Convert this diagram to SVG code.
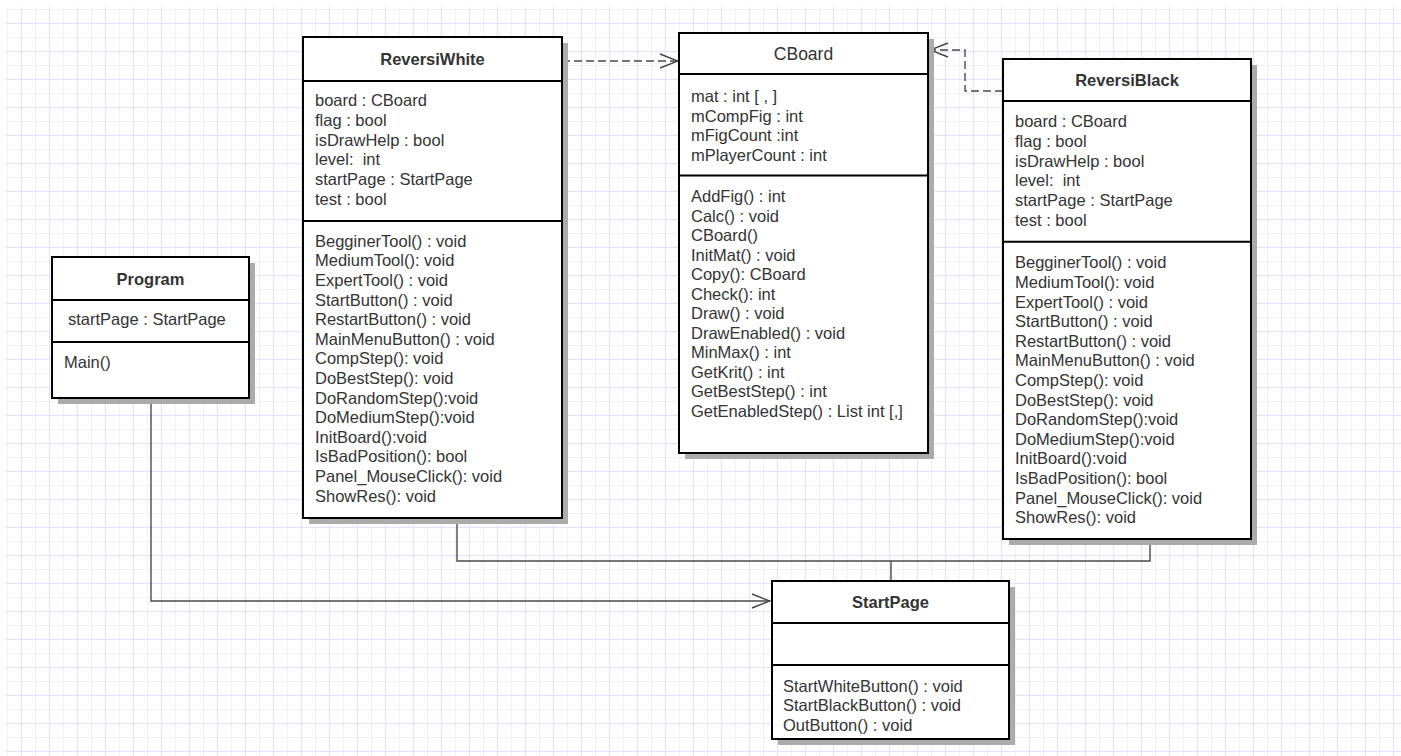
<svg xmlns="http://www.w3.org/2000/svg" width="1401" height="756" viewBox="0 0 1401 756">
<defs>
<pattern id="grid" patternUnits="userSpaceOnUse" x="7" y="9" width="28" height="28">
<line x1="0.5" y1="0" x2="0.5" y2="28" stroke="#f1f1fd" stroke-width="1"/>
<line x1="0" y1="0.5" x2="28" y2="0.5" stroke="#f1f1fd" stroke-width="1"/>
<line x1="14.5" y1="0" x2="14.5" y2="28" stroke="#e3e3fa" stroke-width="1.2"/>
<line x1="0" y1="14.5" x2="28" y2="14.5" stroke="#e3e3fa" stroke-width="1.2"/>
</pattern>
<marker id="open" markerUnits="userSpaceOnUse" viewBox="0 0 20 16" refX="19" refY="8" markerWidth="20" markerHeight="16" orient="auto">
<polyline points="1,1 19,8 1,15" fill="none" stroke="#444" stroke-width="1.4"/>
</marker>
</defs>
<style>
.shadow{fill:#ababab}
.box{fill:#fff;stroke:#000;stroke-width:2}
.div{stroke:#000;stroke-width:2}
.t{font-family:"Liberation Sans",Arial,sans-serif;font-size:16.5px;fill:#333;white-space:pre}
.title{font-family:"Liberation Sans",Arial,sans-serif;font-size:16.5px;font-weight:bold;fill:#333;text-anchor:middle}
.titler{font-family:"Liberation Sans",Arial,sans-serif;font-size:17.5px;fill:#333;text-anchor:middle}
.conn{fill:none;stroke:#4a4a4a;stroke-width:1.4}
.dash{stroke-dasharray:8 4}
</style>
<rect x="0" y="0" width="1401" height="756" fill="#fff"/>
<rect x="5" y="7" width="1396" height="749" fill="url(#grid)"/>

<g id="connectors">
<polyline class="conn dash" points="562,61 678,61" marker-end="url(#open)"/>
<polyline class="conn dash" points="1003,91 965,91 965,50 930,50" marker-end="url(#open)"/>
<polyline class="conn" points="457,518 457,561 1150,561 1150,540"/>
<polyline class="conn" points="891,561 891,581"/>
<polyline class="conn" points="151,398 151,601 770,601" marker-end="url(#open)"/>
</g>

<g id="ReversiWhite">
<rect class="shadow" x="309" y="43" width="259" height="481"/>
<rect class="box" x="303" y="37" width="259" height="481"/>
<line class="div" x1="303" y1="81" x2="562" y2="81"/>
<line class="div" x1="303" y1="221" x2="562" y2="221"/>
<text class="title" x="432.5" y="65">ReversiWhite</text>
<text class="t" x="315" y="106">board : CBoard</text>
<text class="t" x="315" y="125.8">flag : bool</text>
<text class="t" x="315" y="145.6">isDrawHelp : bool</text>
<text class="t" x="315" y="165.4" xml:space="preserve">level:  int</text>
<text class="t" x="315" y="185.2">startPage : StartPage</text>
<text class="t" x="315" y="205">test : bool</text>
<text class="t" x="315" y="246.7">BegginerTool() : void</text>
<text class="t" x="315" y="266.3">MediumTool(): void</text>
<text class="t" x="315" y="285.9">ExpertTool() : void</text>
<text class="t" x="315" y="305.5">StartButton() : void</text>
<text class="t" x="315" y="325.1">RestartButton() : void</text>
<text class="t" x="315" y="344.7">MainMenuButton() : void</text>
<text class="t" x="315" y="364.3">CompStep(): void</text>
<text class="t" x="315" y="383.9">DoBestStep(): void</text>
<text class="t" x="315" y="403.5">DoRandomStep():void</text>
<text class="t" x="315" y="423.1">DoMediumStep():void</text>
<text class="t" x="315" y="442.7">InitBoard():void</text>
<text class="t" x="315" y="462.3">IsBadPosition(): bool</text>
<text class="t" x="315" y="481.9">Panel_MouseClick(): void</text>
<text class="t" x="315" y="501.5">ShowRes(): void</text>
</g>

<g id="CBoard">
<rect class="shadow" x="685" y="39" width="249" height="420"/>
<rect class="box" x="679" y="33" width="249" height="420"/>
<line class="div" x1="679" y1="74" x2="928" y2="74"/>
<line class="div" x1="679" y1="175.5" x2="928" y2="175.5"/>
<text class="titler" x="803.5" y="59.5">CBoard</text>
<text class="t" x="691" y="102">mat : int [ , ]</text>
<text class="t" x="691" y="121.5">mCompFig : int</text>
<text class="t" x="691" y="141">mFigCount :int</text>
<text class="t" x="691" y="160.5">mPlayerCount : int</text>
<text class="t" x="691" y="202.3">AddFig() : int</text>
<text class="t" x="691" y="221.8">Calc() : void</text>
<text class="t" x="691" y="241.3">CBoard()</text>
<text class="t" x="691" y="260.8">InitMat() : void</text>
<text class="t" x="691" y="280.3">Copy(): CBoard</text>
<text class="t" x="691" y="299.8">Check(): int</text>
<text class="t" x="691" y="319.3">Draw() : void</text>
<text class="t" x="691" y="338.8">DrawEnabled() : void</text>
<text class="t" x="691" y="358.3">MinMax() : int</text>
<text class="t" x="691" y="377.8">GetKrit() : int</text>
<text class="t" x="691" y="397.3">GetBestStep() : int</text>
<text class="t" x="691" y="416.8">GetEnabledStep() : List int [,]</text>
</g>

<g id="ReversiBlack">
<rect class="shadow" x="1009" y="65" width="248" height="480"/>
<rect class="box" x="1003" y="59" width="248" height="480"/>
<line class="div" x1="1003" y1="101" x2="1251" y2="101"/>
<line class="div" x1="1003" y1="241.7" x2="1251" y2="241.7"/>
<text class="title" x="1127" y="86">ReversiBlack</text>
<text class="t" x="1015" y="127.3">board : CBoard</text>
<text class="t" x="1015" y="147">flag : bool</text>
<text class="t" x="1015" y="166.7">isDrawHelp : bool</text>
<text class="t" x="1015" y="186.4" xml:space="preserve">level:  int</text>
<text class="t" x="1015" y="206.1">startPage : StartPage</text>
<text class="t" x="1015" y="225.8">test : bool</text>
<text class="t" x="1015" y="268.3">BegginerTool() : void</text>
<text class="t" x="1015" y="287.9">MediumTool(): void</text>
<text class="t" x="1015" y="307.5">ExpertTool() : void</text>
<text class="t" x="1015" y="327.1">StartButton() : void</text>
<text class="t" x="1015" y="346.7">RestartButton() : void</text>
<text class="t" x="1015" y="366.3">MainMenuButton() : void</text>
<text class="t" x="1015" y="385.9">CompStep(): void</text>
<text class="t" x="1015" y="405.5">DoBestStep(): void</text>
<text class="t" x="1015" y="425.1">DoRandomStep():void</text>
<text class="t" x="1015" y="444.7">DoMediumStep():void</text>
<text class="t" x="1015" y="464.3">InitBoard():void</text>
<text class="t" x="1015" y="483.9">IsBadPosition(): bool</text>
<text class="t" x="1015" y="503.5">Panel_MouseClick(): void</text>
<text class="t" x="1015" y="523.1">ShowRes(): void</text>
</g>

<g id="Program">
<rect class="shadow" x="58" y="263" width="197" height="141"/>
<rect class="box" x="52" y="257" width="197" height="141"/>
<line class="div" x1="52" y1="300" x2="249" y2="300"/>
<line class="div" x1="52" y1="342" x2="249" y2="342"/>
<text class="title" x="150.5" y="284.5">Program</text>
<text class="t" x="68" y="325">startPage : StartPage</text>
<text class="t" x="64" y="368.3">Main()</text>
</g>

<g id="StartPage">
<rect class="shadow" x="778" y="587" width="237" height="158"/>
<rect class="box" x="772" y="581" width="237" height="158"/>
<line class="div" x1="772" y1="623" x2="1009" y2="623"/>
<line class="div" x1="772" y1="665" x2="1009" y2="665"/>
<text class="title" x="890.5" y="608">StartPage</text>
<text class="t" x="783" y="691.5">StartWhiteButton() : void</text>
<text class="t" x="783" y="711.2">StartBlackButton() : void</text>
<text class="t" x="783" y="730.9">OutButton() : void</text>
</g>
</svg>
